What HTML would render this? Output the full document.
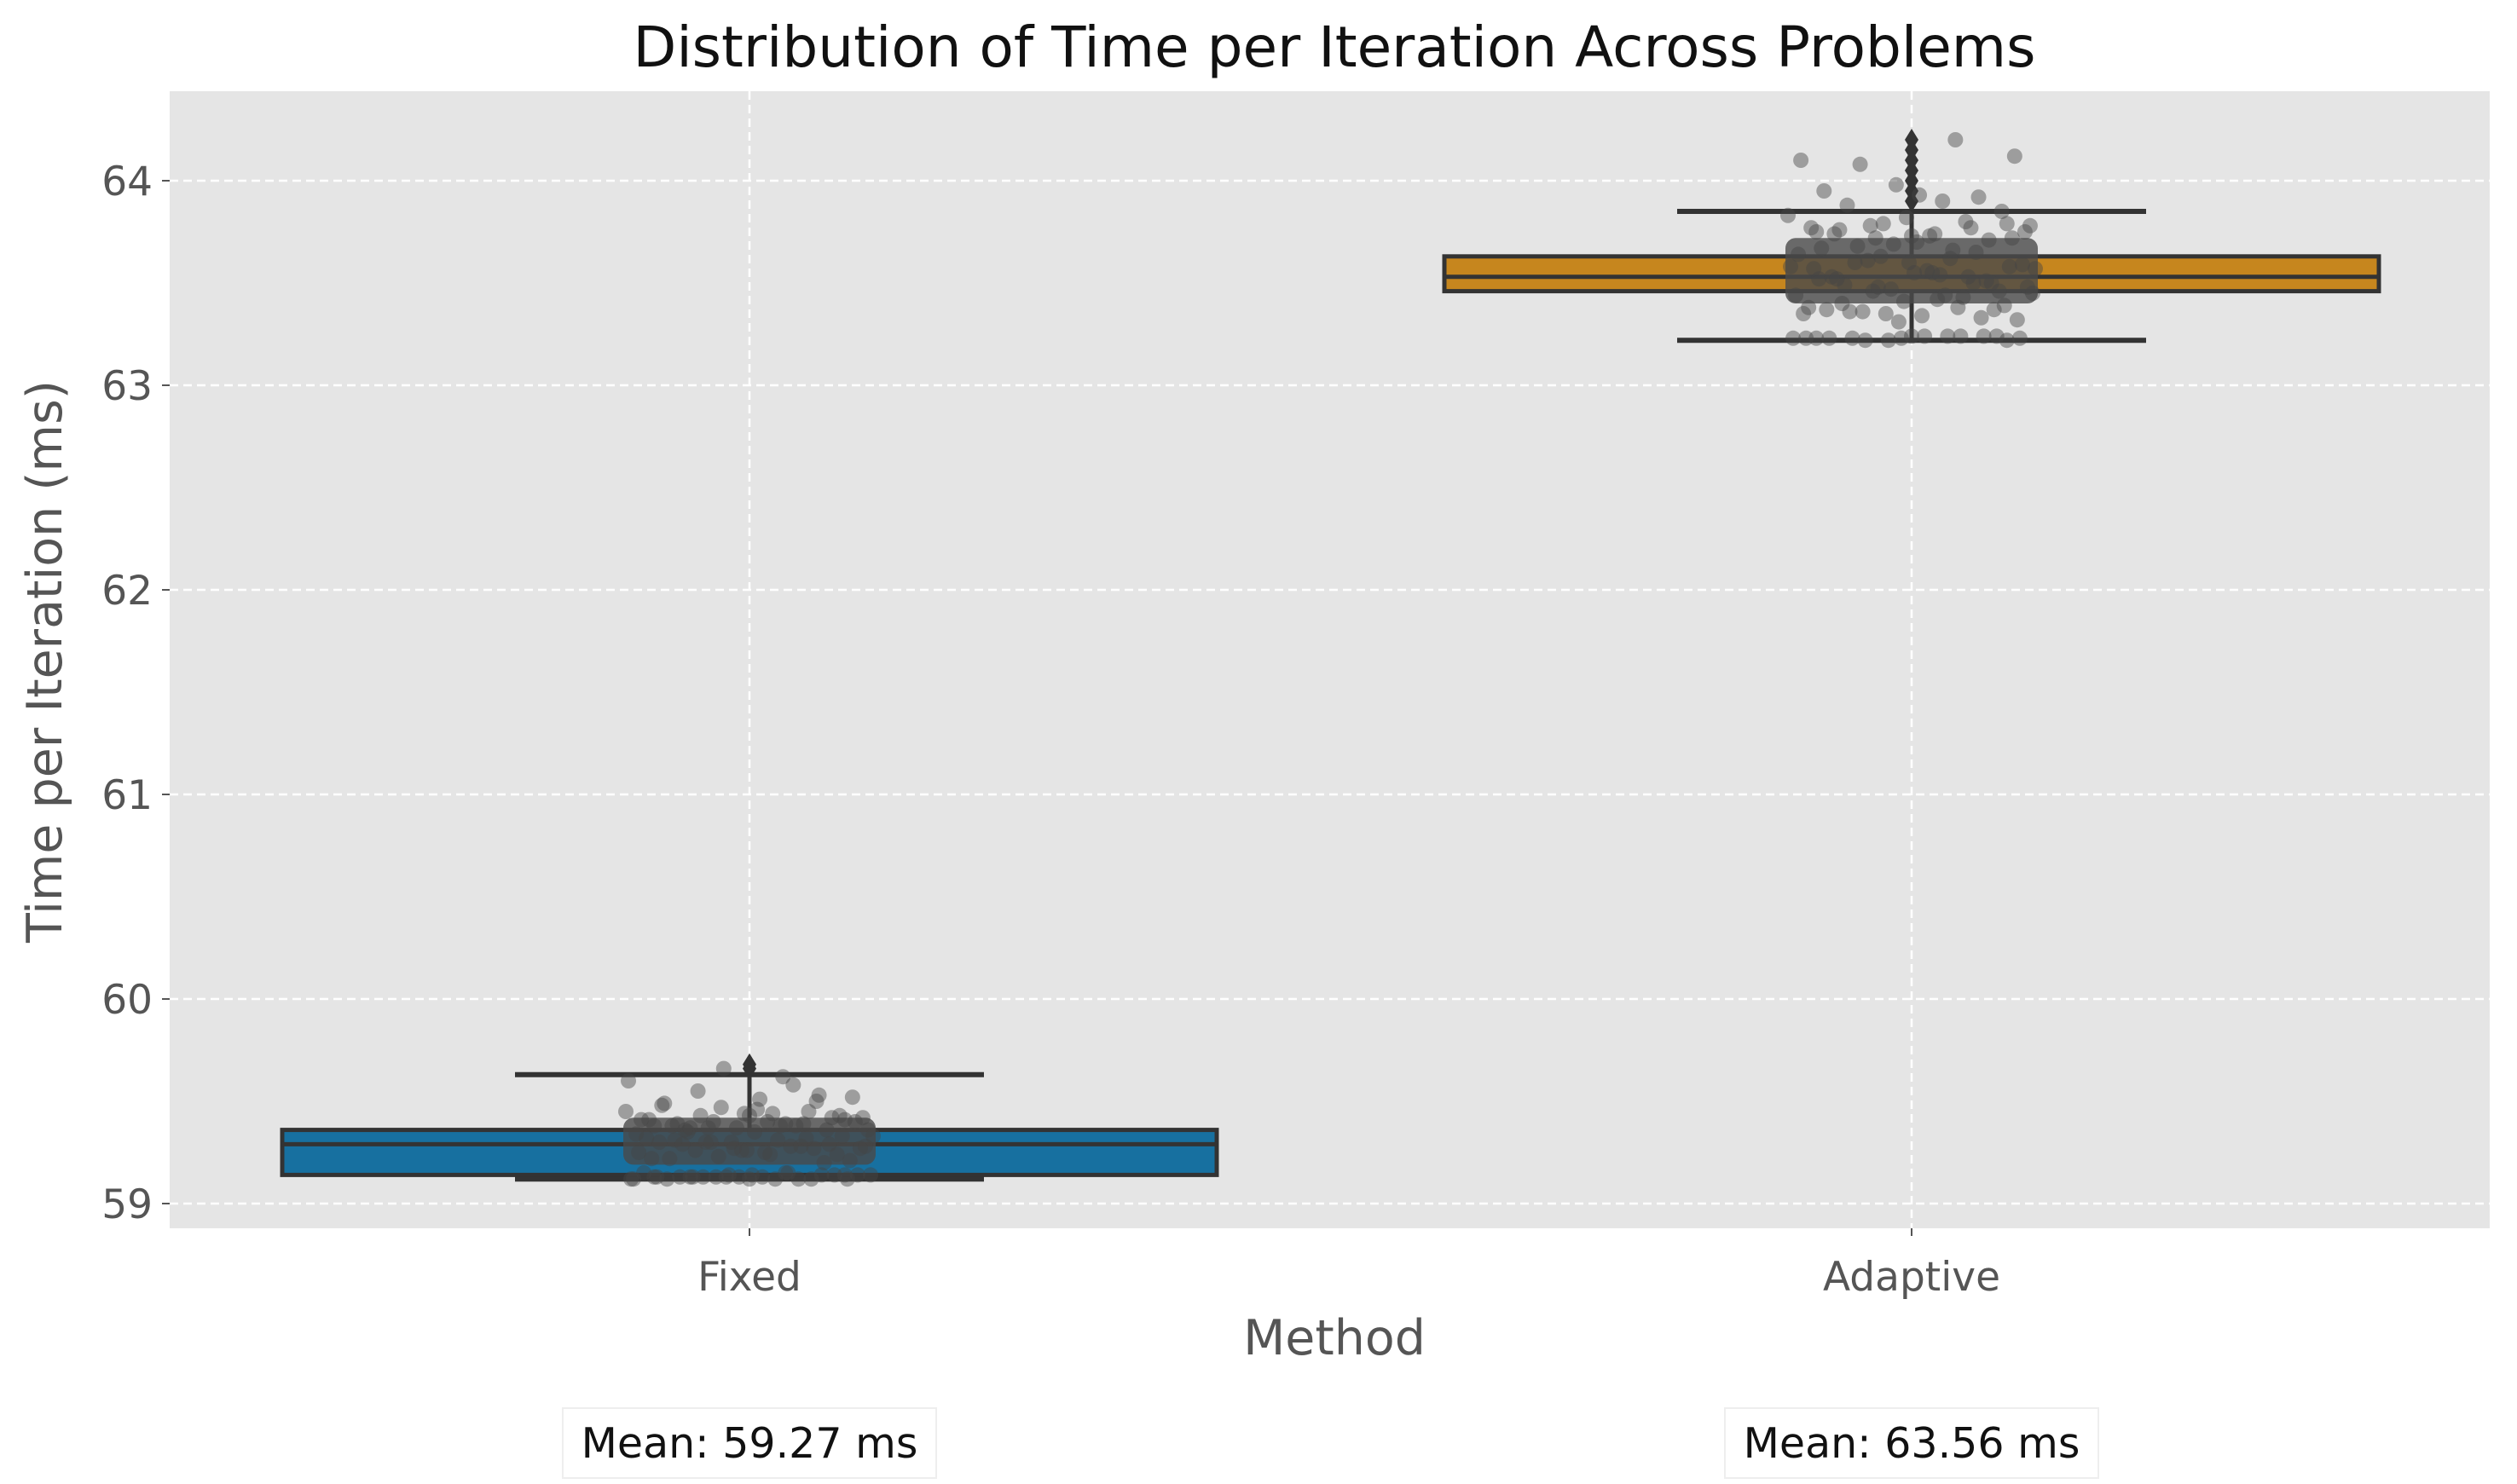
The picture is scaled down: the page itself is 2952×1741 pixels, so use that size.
<!DOCTYPE html>
<html><head><meta charset="utf-8">
<style>
html,body{margin:0;padding:0;background:#fff;}
svg{display:block;}
text{font-family:"DejaVu Sans","Liberation Sans",sans-serif;}
</style></head>
<body>
<svg id="chart" width="2952" height="1741" viewBox="0 0 2952 1741" xmlns="http://www.w3.org/2000/svg">
<text x="1565" y="78" font-size="66" text-anchor="middle" fill="#111">Distribution of Time per Iteration Across Problems</text>
<rect x="199" y="107" width="2721" height="1334" fill="#e5e5e5"/>
<g id="grid"></g>
<g id="yaxis"></g>
<g id="xaxis"></g>
<g id="boxes"></g>
<g id="points"></g>
<text transform="translate(72,776) rotate(-90)" font-size="57" text-anchor="middle" fill="#555">Time per Iteration (ms)</text>
<text x="1565" y="1589" font-size="57" text-anchor="middle" fill="#555">Method</text>
<g id="means"></g>
</svg>
<script>
const categories = ["Fixed", "Adaptive"];
const yTicks = [59, 60, 61, 62, 63, 64];
const q1 = [59.14, 63.46];
const medians = [59.29, 63.53];
const q3 = [59.36, 63.63];
const whiskLo = [59.12, 63.22];
const whiskHi = [59.63, 63.85];
const outliers = [[59.66, 59.68], [63.9, 63.95, 64.0, 64.05, 64.1, 64.15, 64.2]];
const means = [59.27, 63.56];
const meanLabels = ["Mean: 59.27 ms", "Mean: 63.56 ms"];
const fixedPoints = [59.13,59.12,59.14,59.13,59.15,59.12,59.13,59.14,59.12,59.13,59.14,59.13,59.12,59.15,59.13,59.14,
59.13,59.12,59.14,59.13,59.12,59.13,59.14,59.12,59.13,59.15,59.12,59.14,
59.2,59.22,59.25,59.27,59.3,59.28,59.32,59.26,59.24,59.29,59.31,59.33,59.23,59.27,59.3,59.35,59.21,59.26,59.28,59.34,
59.3,59.36,59.38,59.4,59.42,59.37,59.39,59.41,59.44,59.43,59.36,59.38,59.45,59.47,59.5,59.48,59.46,59.52,59.55,59.58,
59.25,59.27,59.29,59.31,59.24,59.28,59.3,59.32,59.22,59.26,59.33,59.35,59.62,59.6,59.66,59.53,59.49,59.51,59.4,59.43,
59.38,59.41,59.37,59.42,59.39,59.44,59.36,59.4,59.45,59.38,59.43,59.41,59.37,59.39];
const adaptivePoints = [63.23,63.24,63.22,63.23,63.24,63.23,63.22,63.24,63.23,63.24,63.23,63.22,63.24,63.23,63.23,63.24,
63.4,63.42,63.45,63.48,63.5,63.52,63.55,63.58,63.6,63.62,63.44,63.47,63.51,63.53,63.56,63.59,63.61,63.43,
63.38,63.41,63.46,63.49,63.54,63.57,63.63,63.65,63.67,63.7,63.72,63.68,63.66,63.64,63.69,63.71,63.74,63.73,
63.75,63.78,63.8,63.77,63.82,63.85,63.88,63.9,63.83,63.79,63.92,63.95,63.93,64.12,64.08,64.2,64.1,63.98,
63.5,63.52,63.55,63.48,63.46,63.53,63.57,63.6,63.39,63.36,63.44,63.58,
63.35,63.33,63.37,63.34,63.32,63.36,63.38,63.35,63.31,63.37,63.76,63.74,63.78,63.72,63.77,63.75,63.73,63.79];
const pointSets = [fixedPoints, adaptivePoints];

const NS = "http://www.w3.org/2000/svg";
const plotL = 199, plotR = 2920, plotT = 107, plotB = 1441;
const xCenters = [879, 2242];
function yScale(v){ return 212 + (64 - v) * 240; }
function xScale(i){ return xCenters[i]; }
function mk(tag, attrs, parent){ const e = document.createElementNS(NS, tag); for (const k in attrs) e.setAttribute(k, attrs[k]); parent.appendChild(e); return e; }

const grid = document.getElementById('grid');
const yaxis = document.getElementById('yaxis');
const xaxis = document.getElementById('xaxis');
yTicks.forEach(t => {
  const y = yScale(t);
  const g = mk('line', {x1: plotL, x2: plotR, y1: y, y2: y, stroke: '#ffffff', 'stroke-width': 2.5, 'stroke-dasharray': '10,6'}, grid);
  
  
  const tk = mk('line', {x1: plotL - 9, x2: plotL, y1: y, y2: y, stroke: '#555', 'stroke-width': 2}, yaxis);
  
  
  const lb = mk('text', {x: plotL - 20, y: y + 17, 'font-size': 47, 'text-anchor': 'end', fill: '#555'}, yaxis);
  
  
  lb.textContent = t;
});
categories.forEach((c, i) => {
  const x = xScale(i);
  const g = mk('line', {x1: x, x2: x, y1: plotT, y2: plotB, stroke: '#ffffff', 'stroke-width': 2.5, 'stroke-dasharray': '10,6'}, grid);
  
  
  const tk = mk('line', {x1: x, x2: x, y1: plotB, y2: plotB + 9, stroke: '#555', 'stroke-width': 2}, xaxis);
  
  
  const lb = mk('text', {x: x, y: plotB + 73, 'font-size': 47, 'text-anchor': 'middle', fill: '#555'}, xaxis);
  
  
  lb.textContent = c;
});

const boxes = document.getElementById('boxes');
const colors = ['#1770a0', '#c6861e'];
const boxHalf = 548, capHalf = 275, edge = '#333333';
categories.forEach((c, i) => {
  const x = xScale(i);
  const l1 = mk('line', {x1: x, x2: x, y1: yScale(whiskHi[i]), y2: yScale(q3[i]), stroke: edge, 'stroke-width': 5}, boxes);
  
  
  const l2 = mk('line', {x1: x, x2: x, y1: yScale(q1[i]), y2: yScale(whiskLo[i]), stroke: edge, 'stroke-width': 5}, boxes);
  
  
  const c1 = mk('line', {x1: x - capHalf, x2: x + capHalf, y1: yScale(whiskHi[i]), y2: yScale(whiskHi[i]), stroke: edge, 'stroke-width': 6}, boxes);
  
  
  const c2 = mk('line', {x1: x - capHalf, x2: x + capHalf, y1: yScale(whiskLo[i]), y2: yScale(whiskLo[i]), stroke: edge, 'stroke-width': 6}, boxes);
  
  
  const r = mk('rect', {x: x - boxHalf, y: yScale(q3[i]), width: boxHalf * 2, height: yScale(q1[i]) - yScale(q3[i]), fill: colors[i], stroke: edge, 'stroke-width': 5}, boxes);
  
  
  const m = mk('line', {x1: x - boxHalf, x2: x + boxHalf, y1: yScale(medians[i]), y2: yScale(medians[i]), stroke: edge, 'stroke-width': 5}, boxes);
  
  
  outliers[i].forEach(v => {
    const y = yScale(v);
    const d = mk('polygon', {points: `${x},${y-13} ${x+8},${y} ${x},${y+13} ${x-8},${y}`, fill: edge}, boxes);
    
    
  });
});

const pts = document.getElementById('points');
const bandLo = [59.19, 63.4];
const bandHi = [59.42, 63.72];
pointSets.forEach((set, i) => {
  const x0 = xScale(i);
  const band = mk('rect', {x: x0 - 148, y: yScale(bandHi[i]), width: 296, height: yScale(bandLo[i]) - yScale(bandHi[i]), fill: '#4a4a4a', 'fill-opacity': 0.8, rx: 12}, pts);
  
  
  set.forEach((v, j) => {
    const jit = (((j * 37 + 11) % 97) / 96 - 0.5) * 290;
    const p = mk('circle', {cx: x0 + jit, cy: yScale(v), r: 9, fill: '#444', 'fill-opacity': 0.45}, pts);
    
    
  });
});

const meansG = document.getElementById('means');
categories.forEach((c, i) => {
  const x = xScale(i);
  const r = mk('rect', {x: x - 219, y: 1652, width: 438, height: 82, fill: '#fff', stroke: '#eeeeee', 'stroke-width': 2}, meansG);
  
  
  const t = mk('text', {x: x, y: 1710, 'font-size': 49, 'text-anchor': 'middle', fill: '#111'}, meansG);
  
  
  t.textContent = meanLabels[i];
});
</script>
</body></html>
